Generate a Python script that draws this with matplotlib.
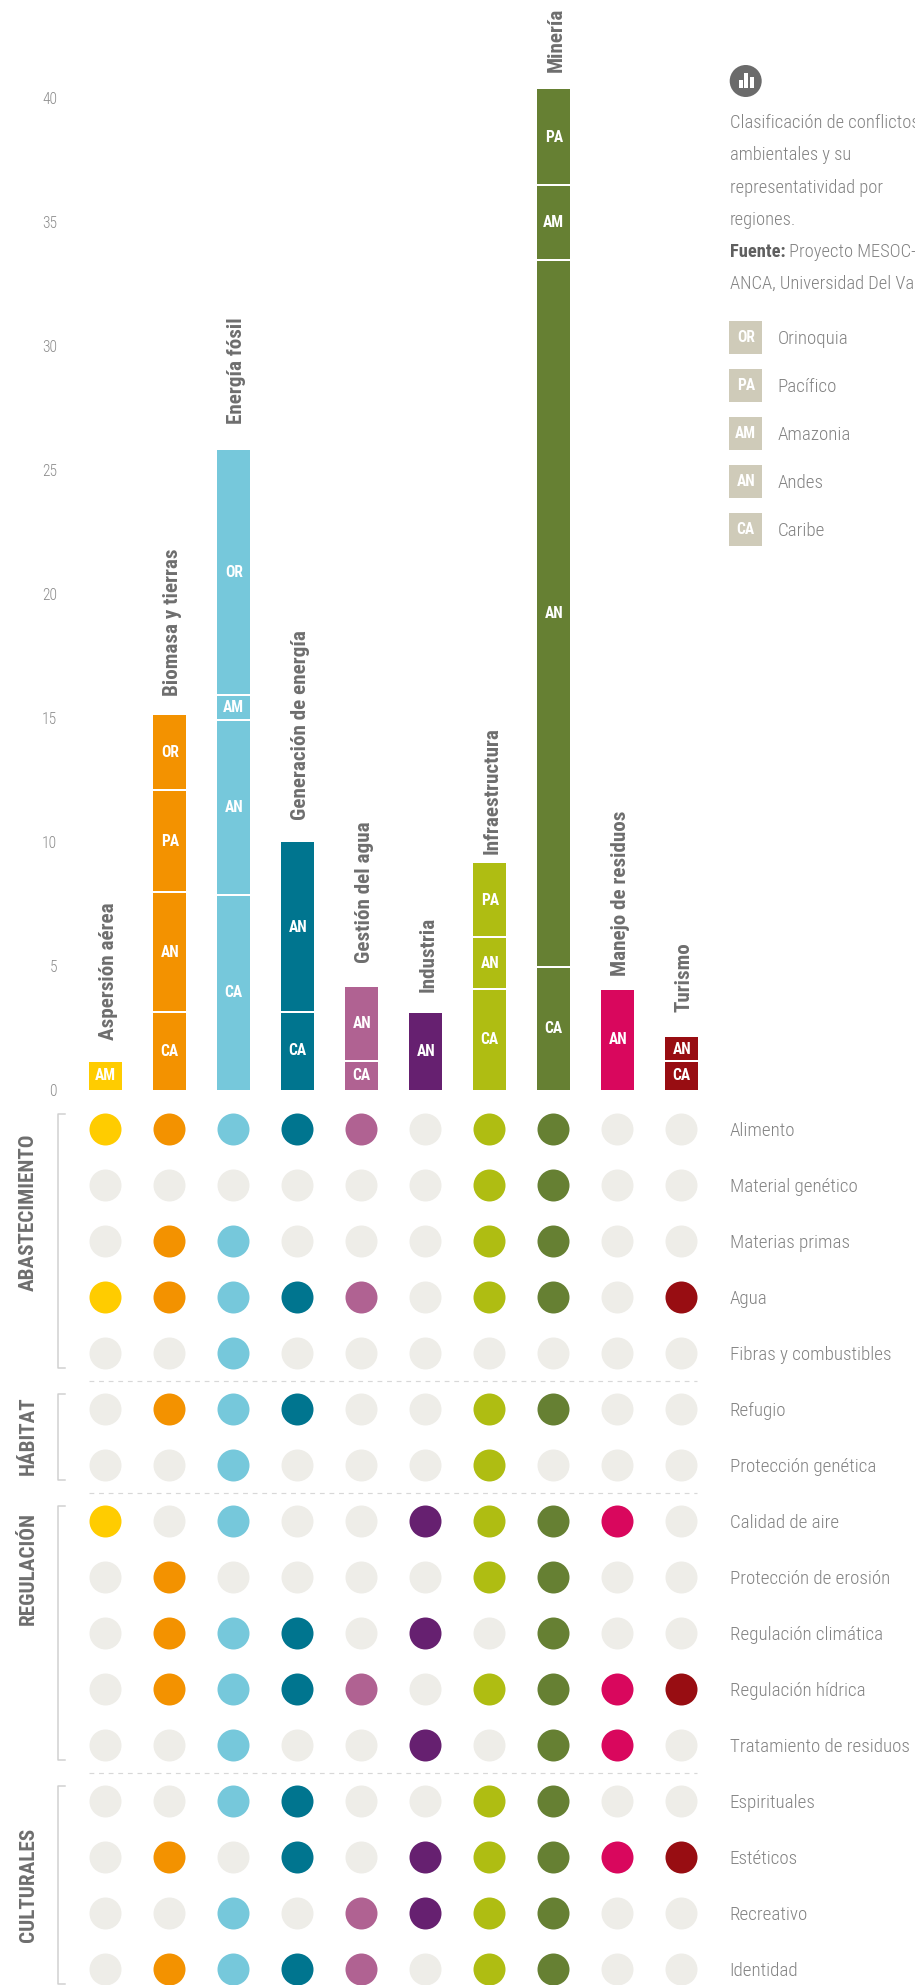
import numpy as np
import matplotlib
matplotlib.use('Agg')
import matplotlib.pyplot as plt
from matplotlib.patches import Circle, Rectangle

plt.rcParams['font.family'] = ['Roboto Condensed', 'Archivo Narrow', 'Liberation Sans', 'DejaVu Sans']

# datos
categorias = ['Aspersión aérea', 'Biomasa y tierras', 'Energía fósil', 'Generación de energía',
              'Gestión del agua', 'Industria', 'Infraestructura', 'Minería',
              'Manejo de residuos', 'Turismo']
colores = ['#FFCC00', '#F39200', '#76C8DB', '#00758F', '#B06292',
           '#662070', '#AFBD12', '#668033', '#D9075D', '#980D12']
# segmentos de abajo hacia arriba
regiones = [['AM'], ['CA', 'AN', 'PA', 'OR'], ['CA', 'AN', 'AM', 'OR'], ['CA', 'AN'], ['CA', 'AN'],
            ['AN'], ['CA', 'AN', 'PA'], ['CA', 'AN', 'AM', 'PA'], ['AN'], ['CA', 'AN']]
valores = [[1.12], [3.12, 4.8, 4.08, 3.0], [7.82, 6.98, 1.0, 9.8], [3.14, 6.76], [1.16, 2.96],
           [3.08], [4.04, 2.08, 2.96], [4.92, 28.28, 3.0, 3.84], [4.0], [1.16, 0.96]]
ticks = [0, 5, 10, 15, 20, 25, 30, 35, 40]

servicios = ['Alimento', 'Material genético', 'Materias primas', 'Agua', 'Fibras y combustibles',
             'Refugio', 'Protección genética', 'Calidad de aire', 'Protección de erosión',
             'Regulación climática', 'Regulación hídrica', 'Tratamiento de residuos',
             'Espirituales', 'Estéticos', 'Recreativo', 'Identidad']
matriz = [[1, 1, 1, 1, 1, 0, 1, 1, 0, 0],
          [0, 0, 0, 0, 0, 0, 1, 1, 0, 0],
          [0, 1, 1, 0, 0, 0, 1, 1, 0, 0],
          [1, 1, 1, 1, 1, 0, 1, 1, 0, 1],
          [0, 0, 1, 0, 0, 0, 0, 0, 0, 0],
          [0, 1, 1, 1, 0, 0, 1, 1, 0, 0],
          [0, 0, 1, 0, 0, 0, 1, 0, 0, 0],
          [1, 0, 1, 0, 0, 1, 1, 1, 1, 0],
          [0, 1, 0, 0, 0, 0, 1, 1, 0, 0],
          [0, 1, 1, 1, 0, 1, 0, 1, 0, 0],
          [0, 1, 1, 1, 1, 0, 1, 1, 1, 1],
          [0, 0, 1, 0, 0, 1, 0, 1, 1, 0],
          [0, 0, 1, 1, 0, 0, 1, 1, 0, 0],
          [0, 1, 0, 1, 0, 1, 1, 1, 1, 1],
          [0, 0, 1, 0, 1, 1, 1, 1, 0, 0],
          [0, 1, 1, 1, 1, 0, 1, 1, 0, 0]]
grupos = ['ABASTECIMIENTO', 'HÁBITAT', 'REGULACIÓN', 'CULTURALES']
grupo_inicio = [0, 5, 7, 12]
grupo_fin = [4, 6, 11, 15]
grupo_texto_y = [1.49, 5.48, 7.85, 13.5]

leyenda_cod = ['OR', 'PA', 'AM', 'AN', 'CA']
leyenda_nom = ['Orinoquia', 'Pacífico', 'Amazonia', 'Andes', 'Caribe']
nota = ['Clasificación de conflictos', 'ambientales y su', 'representatividad por', 'regiones.']

# estilo
W, H = 915, 1985
dpi = 100
px = 72 / dpi  # pixeles a puntos
gris_titulo = '#6e6e6e'
gris_texto = '#828282'
gris_off = '#EEEDE8'
gris_linea = '#d0d0d0'
beige = '#CFCBB9'
fs_titulo = 15.2
fs_texto = 13.7
fs_nota = 13.3
fs_seg = 11.2
x0, paso = 105.7, 64.0  # centro de la primera columna y separacion
ancho = 33.3 / paso
sep_titulo = [22, 19, 26, 23, 24, 21, 9, 17, 14, 25]  # distancia titulo-barra


def caja(l, t, r, b):
    return [l / W, 1 - b / H, (r - l) / W, (b - t) / H]


fig = plt.figure(figsize=(W / dpi, H / dpi), dpi=dpi)

# barras
ax = fig.add_axes(caja(73, 0, 700, 1090))
for i in range(len(categorias)):
    acum = 0
    for reg, val in zip(regiones[i], valores[i]):
        ax.bar(i, val, bottom=acum, width=ancho, color=colores[i], linewidth=0)
        ax.text(i, acum + val / 2, reg, color='white', fontsize=fs_seg, fontweight='bold',
                ha='center', va='center')
        acum += val
        if acum < sum(valores[i]) - 0.01:
            ax.hlines(acum, i - ancho / 2, i + ancho / 2, color='white', lw=2 * px)
    ax.annotate(categorias[i], xy=(i, acum), xytext=(2.5 * px, sep_titulo[i] * px), textcoords='offset points',
                rotation=90, ha='center', va='bottom', color=gris_titulo, fontsize=fs_titulo,
                fontweight='bold', annotation_clip=False)
ax.set_xlim((73 - x0) / paso, (700 - x0) / paso)
ax.set_ylim(0, 1090 / 25)
ax.set_xticks([])
ax.set_yticks(np.array(ticks) * 0.992)
ax.set_yticklabels(ticks, color='#8c8c8c', fontsize=11.2, fontweight='light')
ax.tick_params(axis='y', length=0, pad=16 * px)
for s in ax.spines.values():
    s.set_visible(False)
ax.patch.set_alpha(0)

# matriz de puntos
ax2 = fig.add_axes(caja(0, 1097.3, 700, 1985))
for r, fila in enumerate(matriz):
    for c, activo in enumerate(fila):
        ax2.scatter(c, r, s=(32 * px) ** 2, color=colores[c] if activo else gris_off, linewidths=0,
                    clip_on=False)
ax2.set_xlim(-(x0 - 0.4) / paso, (700 - x0 + 0.4) / paso)
ax2.set_ylim((1985 - 1129.3) / 56, (1097.3 - 1129.3) / 56)
ax2.set_xticks([])
ax2.yaxis.tick_right()
ax2.set_yticks(range(len(servicios)))
ax2.set_yticklabels(servicios, color=gris_texto, fontsize=fs_texto, fontweight='light')
ax2.tick_params(axis='y', length=0, pad=29.7 * px)
for s in ax2.spines.values():
    s.set_visible(False)
ax2.patch.set_alpha(0)

# corchetes, separadores y nombres de grupo
xb0, xb1 = (58 - x0) / paso, (65.7 - x0) / paso
for g, ini, fin, ty in zip(grupos, grupo_inicio, grupo_fin, grupo_texto_y):
    ya, yb = ini - 0.27, fin + 0.27
    ax2.plot([xb1, xb0, xb0, xb1], [ya, ya, yb, yb], color=gris_linea, lw=1.5 * px, clip_on=False)
    ax2.text((29 - x0) / paso, ty, g, rotation=90, ha='center', va='center', color=gris_titulo,
             fontsize=fs_titulo, fontweight='bold')
    if fin < len(servicios) - 1:
        ax2.plot([-0.26, 9.25], [fin + 0.5, fin + 0.5], color='#d8d8d8', lw=1.2 * px,
                 dashes=(4, 4))

# nota y leyenda
ax3 = fig.add_axes([0, 0, 1, 1])
ax3.set_xlim(0, W)
ax3.set_ylim(H, 0)
ax3.axis('off')
ax3.patch.set_alpha(0)
ax3.add_patch(Circle((745.7, 81), 16, color='#6b6b6b', lw=0))
for bx, bh in zip([738.5, 744, 749.5], [8, 15, 11]):
    ax3.add_patch(Rectangle((bx, 88 - bh), 4.2, bh, color='white', lw=0))
for k, linea in enumerate(nota):
    ax3.text(729.7, 122.7 + 32.5 * k, linea, color=gris_texto, fontsize=fs_nota, va='center', fontweight='light')
t = ax3.text(729.7, 257, 'Fuente:', color='#5f5f5f', fontsize=fs_nota, fontweight='bold', va='baseline')
ax3.annotate(' Proyecto MESOC-', xy=(1, 0), xycoords=t, color=gris_texto, fontsize=fs_nota, va='bottom', fontweight='light')
ax3.text(729.7, 283.7, 'ANCA, Universidad Del Valle', color=gris_texto, fontsize=fs_nota, va='center', fontweight='light')
for k, (cod, nom) in enumerate(zip(leyenda_cod, leyenda_nom)):
    y = 321 + 48 * k
    ax3.add_patch(Rectangle((729.3, y), 33, 33, color=beige, lw=0))
    ax3.text(745.8, y + 16.5, cod, color='white', fontsize=fs_seg, fontweight='bold', ha='center', va='center')
    ax3.text(777.7, y + 18, nom, color=gris_texto, fontsize=fs_texto, va='center', fontweight='light')

fig.savefig('out.png', dpi=dpi)
